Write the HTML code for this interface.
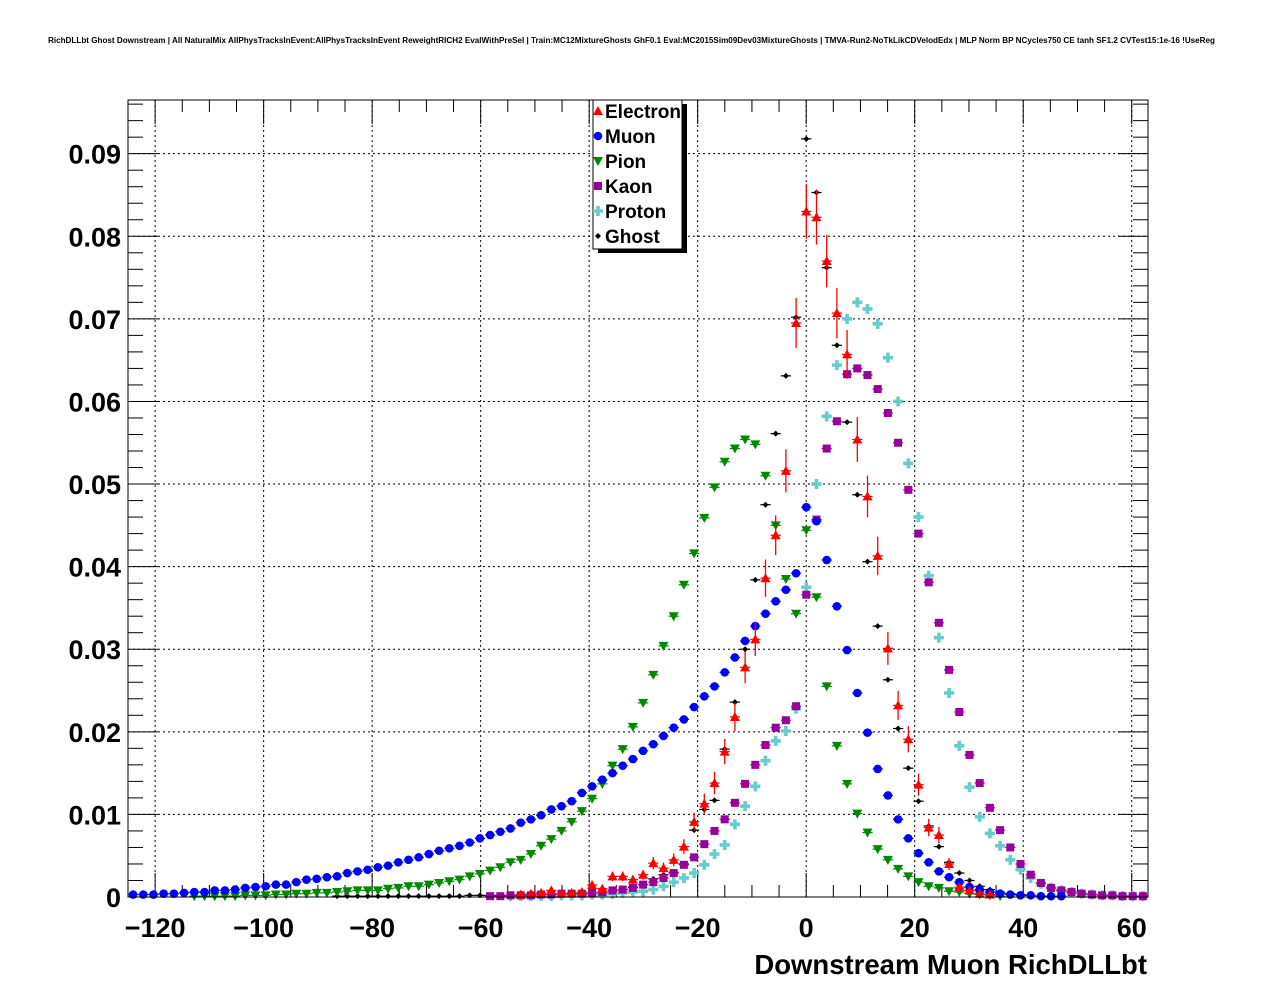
<!DOCTYPE html>
<html><head><meta charset="utf-8"><style>
html,body{margin:0;padding:0;background:#fff;}
svg{display:block;font-family:"Liberation Sans",Arial,sans-serif;}
</style></head><body>
<svg id="chart" width="1276" height="996" viewBox="0 0 1276 996" xmlns="http://www.w3.org/2000/svg">
<rect width="1276" height="996" fill="#fff"/>
<text x="48" y="43" font-size="8" font-weight="bold" textLength="1167" lengthAdjust="spacingAndGlyphs">RichDLLbt Ghost Downstream | All NaturalMix AllPhysTracksInEvent:AllPhysTracksInEvent ReweightRICH2 EvalWithPreSel | Train:MC12MixtureGhosts GhF0.1 Eval:MC2015Sim09Dev03MixtureGhosts | TMVA-Run2-NoTkLikCDVelodEdx | MLP Norm BP NCycles750 CE tanh SF1.2 CVTest15:1e-16 !UseReg</text>
<g id="grid"></g>
<g id="axes"></g>
<g id="marks"></g>
<rect x="128" y="100" width="1020" height="797" fill="none" stroke="#000" stroke-width="1"/>
<text x="1147" y="974" font-size="27.5" font-weight="bold" text-anchor="end">Downstream Muon RichDLLbt</text>
<g id="legend"></g>
</svg>
<script>
// ---- data (bin k: center = xMin + (k+0.5)*binW) ----
const binCount = 100;
const xRange = [-125, 63];
const xTicks = [-120, -100, -80, -60, -40, -20, 0, 20, 40, 60];
const yTicks = [0, 0.01, 0.02, 0.03, 0.04, 0.05, 0.06, 0.07, 0.08, 0.09];
const yTickLabels = ["0", "0.01", "0.02", "0.03", "0.04", "0.05", "0.06", "0.07", "0.08", "0.09"];
const seriesNames = ["Electron", "Muon", "Pion", "Kaon", "Proton", "Ghost"];
const electron = [0,0,0,0,0,0,0,0,0,0, 0,0,0,0,0,0,0,0,0,0, 0,0,0,0,0,0,0,0,0,0, 0,0,0,0,0,0,0,0,.0003,.0004,
 .0005,.0008,.0004,.0005,.0006,.00145,.001,.0025,.0025,.0021, .0027,.0041,.0035,.0045,.0061,.0091,.0113,.0138,.0176,.0218,
 .0278,.0312,.0386,.0438,.0516,.0695,.083,.0823,.077,.0707, .0657,.0554,.0485,.0413,.0301,.0232,.0191,.0136,.0084,.0075,
 .004,.0012,.0008,.0004,.0003,0,0,0,0,0, 0,0,0,0,0,0,0,0,0,0];
const muon = [.0003,.0003,.0003,.0004,.0004,.0005,.0006,.0006,.0008,.0008, .0009,.0011,.0012,.0013,.0015,.0015,.0018,.0021,.0022,.0024,
 .0025,.0029,.0031,.0033,.0036,.0038,.0042,.0045,.0048,.0052, .0056,.0059,.0062,.0066,.0071,.0075,.0079,.0083,.009,.0094,
 .0099,.0106,.011,.0116,.0126,.0134,.0142,.015,.0159,.0167, .0177,.0185,.0195,.0205,.0215,.023,.0243,.0255,.0272,.029,
 .031,.0328,.0343,.0358,.0372,.0392,.0472,.0455,.0408,.0352, .0299,.0247,.0199,.0155,.0123,.0094,.0071,.0053,.0042,.0031,
 .0024,.0018,.0012,.0009,.0006,.0004,.0003,.0002,.0002,.0001, .0001,.0001,0,0,0,0,0,0,0,0];
const pion = [0,0,0,0,0,0,.0001,.0001,.0001,.0001, .0001,.0002,.0002,.0002,.0003,.0003,.0004,.0004,.0005,.0005,
 .0006,.0007,.0008,.0008,.0008,.001,.0011,.0013,.0013,.0015, .0017,.0019,.0021,.0025,.0028,.0032,.0036,.0042,.0045,.0052,
 .0062,.007,.008,.0091,.0104,.0119,.0137,.0159,.0179,.0206, .0235,.0269,.0304,.034,.0378,.0416,.0459,.0496,.0527,.0543,
 .0554,.0548,.051,.045,.0385,.0343,.0444,.0363,.0255,.0183, .0137,.0101,.0078,.0058,.0045,.0034,.0025,.0018,.0013,.0011,
 .0007,.0006,.0004,.0003,.0002,.0001,0,0,0,0, 0,0,0,0,0,0,0,0,0,0];
const kaon = [0,0,0,0,0,0,0,0,0,0, 0,0,0,0,0,0,0,0,0,0,
 0,0,0,0,0,0,0,0,0,0, 0,0,0,0,0,.0001,.0001,.0002,.0002,.0002,
 .0003,.0003,.0004,.0004,.0004,.0005,.0006,.0008,.0009,.0011, .0015,.0018,.0023,.0029,.0039,.0048,.0064,.008,.0094,.0114,
 .0137,.016,.0184,.0205,.0214,.0231,.0366,.0457,.0543,.0576, .0633,.064,.0632,.0615,.0586,.055,.0493,.044,.0381,.0332,
 .0275,.0224,.0172,.0138,.0108,.0081,.006,.004,.0027,.0017, .0011,.0008,.0006,.0004,.0003,.0002,.0002,.0001,.0001,.0001];
const proton = [0,0,0,0,0,0,0,0,0,0, 0,0,0,0,0,0,0,0,0,0,
 0,0,0,0,0,0,0,0,0,0, 0,0,0,0,0,0,0,.0001,.0001,.0001,
 .0001,.0001,.0002,.0002,.0002,.0003,.0003,.0004,.0005,.0006, .0007,.0009,.0013,.0018,.0023,.0029,.0039,.0052,.0063,.0088,
 .011,.0134,.0165,.0189,.0201,.0228,.0375,.05,.0582,.0644, .07,.072,.0712,.0694,.0653,.06,.0525,.046,.0389,.0314,
 .0247,.0183,.0133,.0097,.0077,.0062,.0045,.0033,.0023,.0016, .0011,.0008,.0006,.0004,.0003,.0002,.0002,.0001,.0001,.0001];
const ghost = [0,0,0,0,0,0,0,0,0,0, 0,0,0,0,0,0,0,0,0,0,
 .0001,.0001,.0001,.0001,.0001,.0001,.0001,.0001,.0001,.0001, .0001,.0001,.0001,.0002,.0002,.0002,.0002,.0002,.0002,.0003,
 .0003,.0003,.0003,.0004,.0004,.0004,.0005,.0006,.0009,.0012, .0015,.0022,.0027,.003,.004,.0081,.0106,.0117,.0179,.0236,
 .03,.0384,.0475,.0561,.0631,.0702,.0918,.0853,.0762,.0668, .0575,.0487,.0406,.0328,.0263,.0204,.0156,.0116,.0086,.0061,
 .0042,.0029,.002,.0013,.0009,.0006,.0004,.0003,.0002,.0001, 0,0,0,0,0,0,0,0,0,0];
const electronErrScale = 0.0115; // Poisson-like: err ~ scale*sqrt(value)

// ---- geometry ----
const L = 128, R = 1148, T = 100, B = 897, yMax = 0.0965;
const NS = "http://www.w3.org/2000/svg";
const xPx = v => L + (v - xRange[0]) / (xRange[1] - xRange[0]) * (R - L);
const yPx = v => B - v / yMax * (B - T);
const binW = (xRange[1] - xRange[0]) / binCount;
const center = k => xRange[0] + (k + 0.5) * binW;
function mk(tag, attrs, parent) {
  const e = document.createElementNS(NS, tag);
  for (const a in attrs) e.setAttribute(a, attrs[a]);
  parent.appendChild(e);
  return e;
}
const grid = document.getElementById('grid'), axes = document.getElementById('axes'), marks = document.getElementById('marks');

xTicks.forEach(t => {
  const x = xPx(t);
  const g = mk('line', {x1: x, x2: x, y1: T, y2: B, stroke: '#000', 'stroke-width': 1, 'stroke-dasharray': '2,3'}, grid);
  
  
  const lb = mk('text', {x: x, y: 937, 'font-size': 27, 'font-weight': 'bold', 'text-anchor': 'middle'}, axes);
  lb.textContent = t < 0 ? '\u2212' + (-t) : String(t);
  
  
});
for (let v = -125; v <= 63; v += 5) {
  const x = xPx(v); if (x < L || x > R) continue;
  const major = v % 20 === 0;
  const len = major ? 24 : 12;
  mk('line', {x1: x, x2: x, y1: B, y2: B - len, stroke: '#000'}, axes);
  mk('line', {x1: x, x2: x, y1: T, y2: T + len, stroke: '#000'}, axes);
}
yTicks.forEach((t, i) => {
  const y = yPx(t);
  if (t > 0) {
    const g = mk('line', {x1: L, x2: R, y1: y, y2: y, stroke: '#000', 'stroke-width': 1, 'stroke-dasharray': '2,3'}, grid);
    
    
  }
  const lb = mk('text', {x: 121, y: y + 10, 'font-size': 27, 'font-weight': 'bold', 'text-anchor': 'end'}, axes);
  lb.textContent = yTickLabels[i];
  
  
});
for (let i = 0; i * 0.002 <= yMax; i++) {
  const y = yPx(i * 0.002);
  const len = i % 5 === 0 ? 30 : 15;
  mk('line', {x1: L, x2: L + len, y1: y, y2: y, stroke: '#000'}, axes);
  mk('line', {x1: R, x2: R - len, y1: y, y2: y, stroke: '#000'}, axes);
}

const colors = {Electron: '#ff0000', Muon: '#0000ff', Pion: '#008800', Kaon: '#990099', Proton: '#66cccc', Ghost: '#000000'};
function marker(name, x, y, parent) {
  const c = colors[name];
  if (name === 'Electron') return mk('polygon', {points: `${x-5},${y+4} ${x+5},${y+4} ${x},${y-5}`, fill: c}, parent);
  if (name === 'Muon') return mk('circle', {cx: x, cy: y, r: 4.3, fill: c}, parent);
  if (name === 'Pion') return mk('polygon', {points: `${x-5},${y-4} ${x+5},${y-4} ${x},${y+5}`, fill: c}, parent);
  if (name === 'Kaon') return mk('rect', {x: x - 4, y: y - 4, width: 8, height: 8, fill: c}, parent);
  if (name === 'Proton') return mk('path', {d: `M${x-5},${y-1.8}h3.2v-3.2h3.6v3.2h3.2v3.6h-3.2v3.2h-3.6v-3.2h-3.2z`, fill: c}, parent);
  return mk('polygon', {points: `${x-3},${y} ${x},${y-3} ${x+3},${y} ${x},${y+3}`, fill: c}, parent);
}
const seriesData = {Electron: electron, Muon: muon, Pion: pion, Kaon: kaon, Proton: proton, Ghost: ghost};
const drawOrder = ['Ghost', 'Proton', 'Kaon', 'Pion', 'Muon', 'Electron'];
drawOrder.forEach(name => {
  const arr = seriesData[name];
  const g = mk('g', {}, marks);
  
  
  arr.forEach((v, k) => {
    if (v <= 0) return;
    const cx = xPx(center(k)), cy = yPx(v), hw = (xPx(binW) - xPx(0)) / 2;
    mk('line', {x1: cx - hw, x2: cx + hw, y1: cy, y2: cy, stroke: colors[name], 'stroke-width': 1.2}, g);
    if (name === 'Electron') {
      const e = electronErrScale * Math.sqrt(v);
      mk('line', {x1: cx, x2: cx, y1: yPx(v + e), y2: yPx(Math.max(0, v - e)), stroke: colors[name], 'stroke-width': 1.3}, g);
    }
    const m = marker(name, cx, cy, g);
    
    
  });
});

const lg = document.getElementById('legend');
mk('rect', {x: 598, y: 104, width: 89, height: 149, fill: '#000'}, lg);
mk('rect', {x: 593, y: 100, width: 89, height: 149, fill: '#fff', stroke: '#000', 'stroke-width': 1}, lg);
seriesNames.forEach((name, i) => {
  const y = 111 + i * 25;
  const ent = mk('g', {}, lg);
  
  
  marker(name, 598, y, ent);
  const t = mk('text', {x: 605, y: y + 7, 'font-size': 19, 'font-weight': 'bold'}, ent);
  t.textContent = name;
});
</script>
</body></html>
